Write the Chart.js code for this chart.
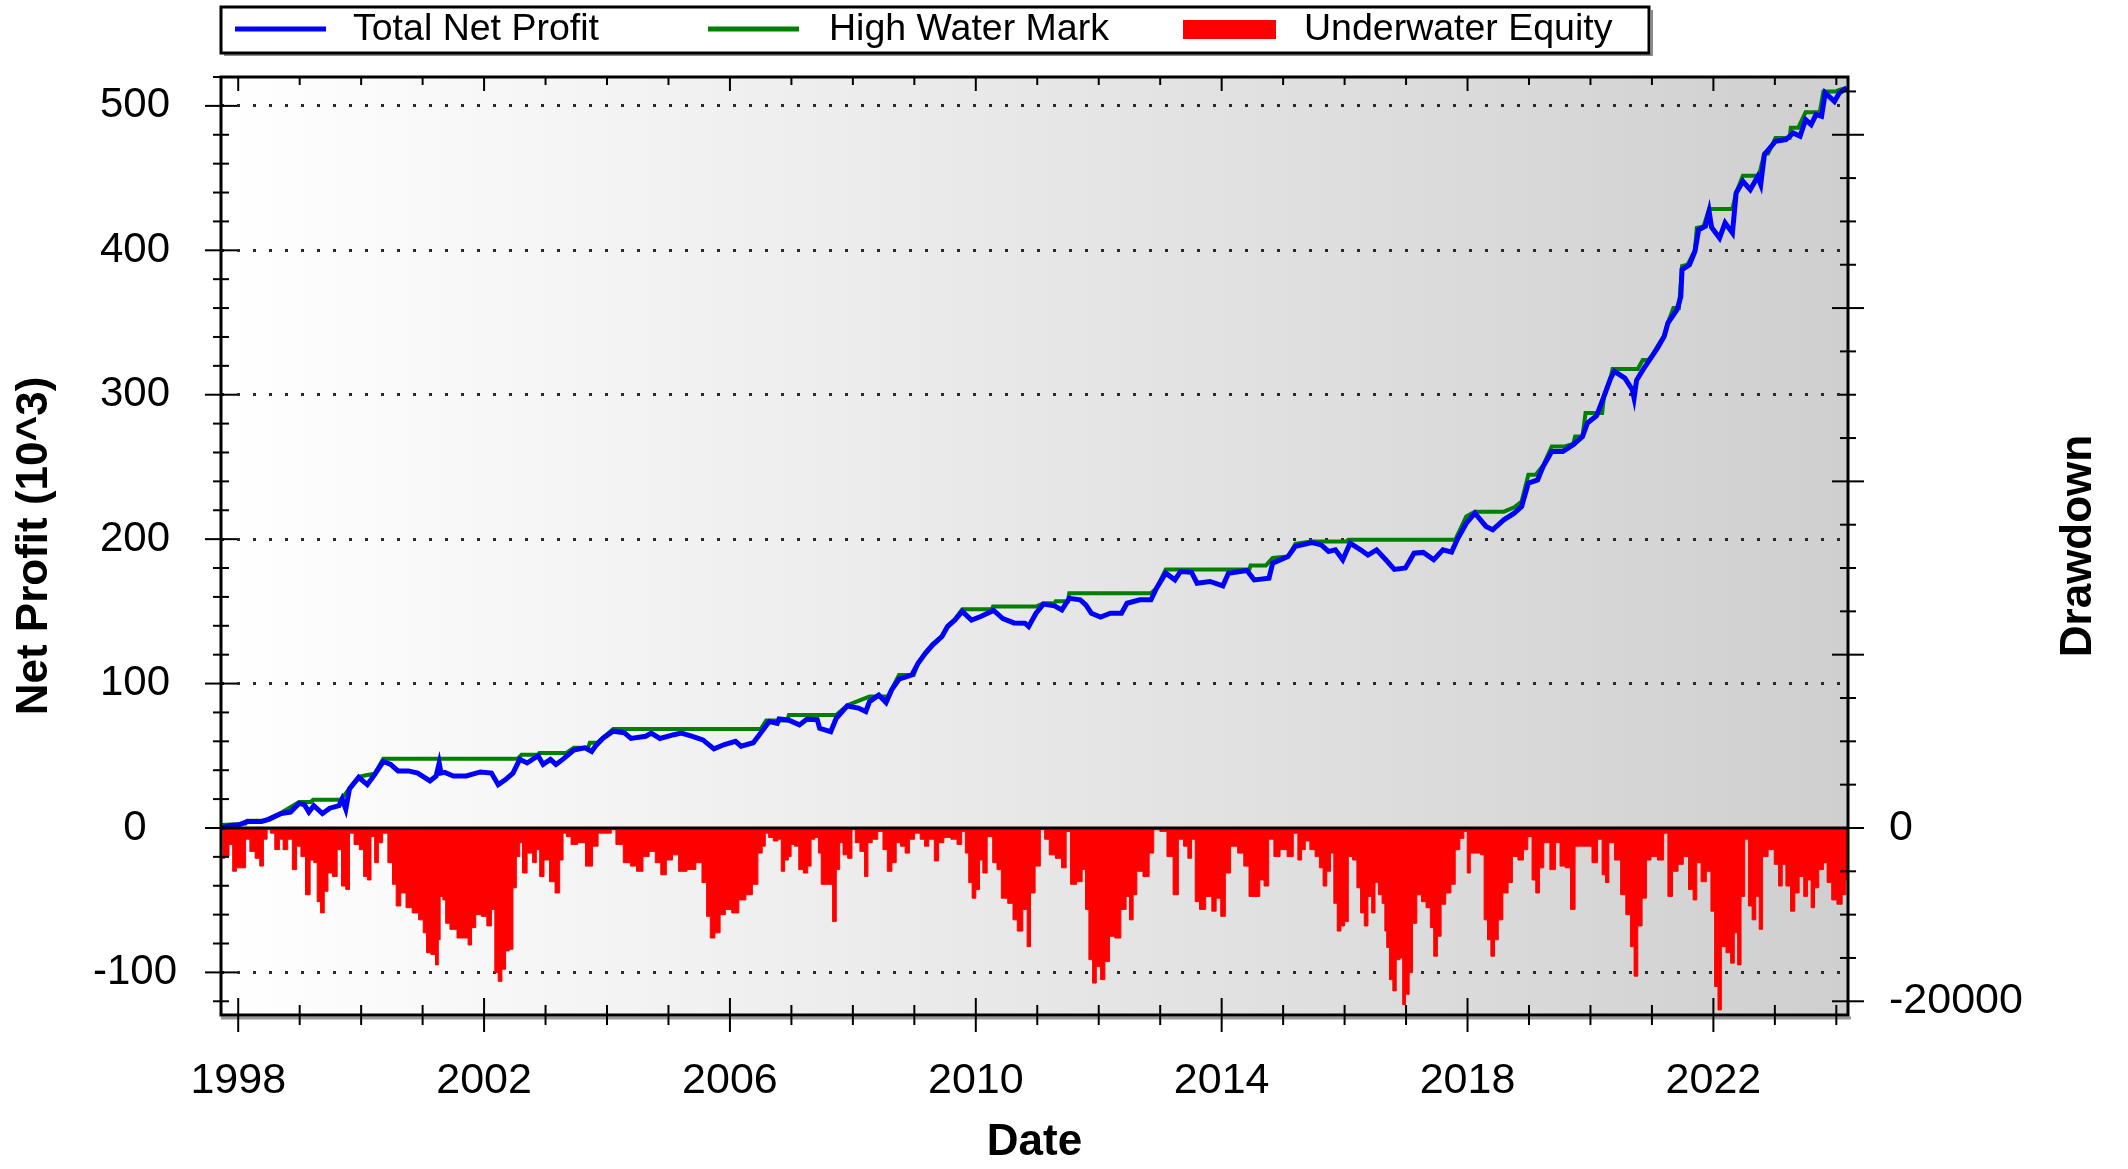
<!DOCTYPE html>
<html>
<head>
<meta charset="utf-8">
<title>Net Profit / Drawdown</title>
<script src="https://cdn.jsdelivr.net/npm/chart.js@4.4.1/dist/chart.umd.min.js"></script>
<style>
  html, body { margin: 0; padding: 0; background: #fff; }
  #wrap { width: 2128px; height: 1169px; }
</style>
</head>
<body>
<div id="wrap"><canvas id="chart"></canvas></div>
<script>
// Equity curve, thousands (year, net profit)
const equityPoints = [
  [1997.72, 0], [1997.85, 1.5], [1998.00, 2], [1998.15, 4.5], [1998.38, 4.5], [1998.50, 6],
  [1998.70, 10], [1998.85, 11], [1998.99, 17], [1999.08, 16], [1999.15, 11], [1999.23, 15.5],
  [1999.37, 10], [1999.49, 13.7], [1999.64, 15.5], [1999.69, 20], [1999.75, 13], [1999.81, 27],
  [1999.96, 35], [2000.10, 30], [2000.22, 37], [2000.36, 46], [2000.48, 44], [2000.60, 39.5],
  [2000.77, 39.5], [2000.92, 38], [2001.12, 32.6], [2001.22, 36], [2001.27, 45], [2001.30, 38],
  [2001.36, 38.5], [2001.50, 36], [2001.71, 36], [2001.94, 38.8], [2002.12, 38], [2002.23, 30],
  [2002.35, 33.5], [2002.47, 38], [2002.58, 47.5], [2002.70, 45], [2002.88, 50], [2002.96, 44],
  [2003.08, 47.5], [2003.17, 44], [2003.28, 47.5], [2003.46, 54], [2003.64, 55.5], [2003.75, 53],
  [2003.81, 56.6], [2003.93, 62], [2004.10, 67], [2004.28, 66], [2004.39, 62], [2004.63, 63.5],
  [2004.72, 65.7], [2004.86, 62], [2005.09, 64.6], [2005.21, 65.7], [2005.39, 63.5], [2005.56, 61],
  [2005.74, 54.8], [2005.91, 57.8], [2006.09, 60], [2006.18, 56.6], [2006.38, 59], [2006.50, 65.7],
  [2006.64, 73.7], [2006.77, 72.5], [2006.80, 75.5], [2006.95, 74.8], [2007.13, 71.4], [2007.25, 75.3],
  [2007.42, 75], [2007.46, 69], [2007.64, 66.7], [2007.73, 76], [2007.91, 84.5], [2008.09, 83],
  [2008.21, 80.6], [2008.27, 87.5], [2008.42, 92], [2008.54, 86.8], [2008.63, 95.6], [2008.75, 103],
  [2008.96, 106], [2009.06, 114], [2009.18, 121], [2009.30, 126.8], [2009.45, 132.6], [2009.54, 139.5],
  [2009.66, 144], [2009.78, 150], [2009.93, 144], [2010.08, 146.4], [2010.29, 150.6], [2010.44, 145],
  [2010.62, 142], [2010.80, 141.8], [2010.86, 139.5], [2010.98, 148.7], [2011.10, 155], [2011.28, 153.8],
  [2011.40, 151], [2011.52, 159], [2011.70, 158], [2011.79, 154.5], [2011.88, 148.7], [2012.03, 146],
  [2012.19, 148.7], [2012.37, 148.7], [2012.46, 155.6], [2012.67, 158], [2012.85, 158], [2012.94, 166],
  [2013.09, 176.4], [2013.24, 171.8], [2013.33, 177.6], [2013.51, 177], [2013.60, 169.5], [2013.81, 170.7],
  [2014.02, 167.7], [2014.11, 176.4], [2014.41, 178.3], [2014.53, 171.8], [2014.77, 173], [2014.83, 183.4],
  [2015.08, 188], [2015.20, 195], [2015.47, 197.7], [2015.62, 196], [2015.74, 191.5], [2015.85, 192.6],
  [2015.97, 185.7], [2016.09, 197.2], [2016.26, 192.6], [2016.38, 189], [2016.52, 192.6], [2016.67, 185.7],
  [2016.81, 179], [2016.99, 180], [2017.13, 190.3], [2017.28, 190.8], [2017.45, 185.7], [2017.60, 192.6],
  [2017.74, 191], [2017.83, 199.5], [2017.98, 211], [2018.12, 218], [2018.30, 208.8], [2018.41, 206.5],
  [2018.59, 213.4], [2018.76, 218], [2018.88, 222.6], [2018.99, 238.8], [2019.14, 241], [2019.23, 250.3],
  [2019.37, 260.7], [2019.55, 260.7], [2019.72, 265.4], [2019.87, 271], [2019.95, 280.4], [2020.10, 285.5],
  [2020.22, 298.8], [2020.33, 311.5], [2020.39, 316.2], [2020.56, 311.5], [2020.68, 303.5], [2020.71, 297.7],
  [2020.75, 310], [2020.85, 317], [2021.00, 326.6], [2021.09, 332.3], [2021.20, 340.4], [2021.26, 349.6],
  [2021.41, 359], [2021.47, 368], [2021.49, 386.6], [2021.61, 390], [2021.70, 399.3], [2021.76, 414.3],
  [2021.87, 416.6], [2021.93, 427], [2021.97, 416], [2022.10, 408.5], [2022.19, 419], [2022.31, 412],
  [2022.37, 439.7], [2022.48, 447.8], [2022.60, 442], [2022.72, 451], [2022.77, 445.5], [2022.83, 466.3],
  [2023.01, 475.5], [2023.18, 476.7], [2023.30, 481.3], [2023.41, 479], [2023.50, 490.5], [2023.59, 487],
  [2023.67, 494], [2023.76, 492.8], [2023.82, 509], [2023.97, 503], [2024.05, 509], [2024.17, 512.5]
];

// High water mark, thousands
const hwmPoints = [
  [1997.72, 2], [1998.12, 3], [1998.15, 5], [1998.42, 5], [1998.70, 10.5], [1998.99, 18], [1999.18, 18],
  [1999.22, 19.6], [1999.66, 19.6], [1999.70, 21], [1999.81, 27.5], [1999.96, 35.5], [2000.08, 36.5],
  [2000.22, 37.5], [2000.36, 48], [2002.55, 48], [2002.61, 50.7], [2002.88, 50.7], [2002.90, 52],
  [2003.34, 52], [2003.46, 55.5], [2003.69, 55.5], [2003.72, 59], [2003.84, 59], [2004.10, 68.5],
  [2006.50, 68.5], [2006.59, 74.4], [2006.93, 74.4], [2006.96, 78.3], [2007.73, 78.3], [2007.91, 85],
  [2008.27, 91], [2008.57, 91], [2008.75, 106], [2008.99, 106], [2009.06, 114], [2009.18, 121.5],
  [2009.30, 127.5], [2009.45, 133], [2009.54, 140], [2009.66, 144.5], [2009.78, 151.5], [2010.26, 151.5],
  [2010.28, 153.3], [2010.98, 153.3], [2011.10, 155.6], [2011.28, 155.6], [2011.30, 157], [2011.50, 157],
  [2011.52, 162.6], [2012.85, 162.6], [2012.94, 166], [2013.09, 179], [2014.45, 179], [2014.47, 181.8],
  [2014.72, 181.8], [2014.83, 187], [2015.08, 188], [2015.20, 196.8], [2015.45, 198.4], [2016.03, 198.4],
  [2016.06, 199.5], [2017.80, 199.5], [2017.98, 215.7], [2018.12, 219], [2018.59, 219], [2018.76, 222],
  [2018.88, 226], [2018.99, 244.6], [2019.11, 244.6], [2019.23, 251], [2019.37, 264.2], [2019.58, 264.2],
  [2019.72, 266], [2019.75, 271], [2019.87, 271], [2019.92, 287.3], [2020.19, 287.3], [2020.22, 299],
  [2020.33, 312], [2020.36, 317.8], [2020.77, 317.8], [2020.85, 324], [2020.94, 324], [2021.00, 327],
  [2021.09, 333.5], [2021.20, 341], [2021.26, 350], [2021.35, 360], [2021.44, 360], [2021.49, 389],
  [2021.58, 390], [2021.70, 400], [2021.73, 415.5], [2021.84, 416.6], [2021.93, 428.6], [2022.31, 428.6],
  [2022.37, 440], [2022.48, 451.7], [2022.74, 451.7], [2022.83, 467], [2022.89, 467], [2023.01, 477.8],
  [2023.24, 477.8], [2023.26, 484.8], [2023.38, 484.8], [2023.50, 495.6], [2023.73, 495.6], [2023.79, 510],
  [2023.99, 510], [2024.05, 511], [2024.17, 512.5]
];

// Underwater equity (drawdown), dollars, right axis
const drawdownPoints = [
  [1997.74, -3500], [1997.82, -3300], [1997.88, -1900], [1997.94, -5000], [1998.00, -4600], [1998.09, -4600],
  [1998.15, -1300], [1998.23, -2700], [1998.32, -3500], [1998.38, -4400], [1998.44, -1300], [1998.50, -200],
  [1998.55, -600], [1998.64, -2500], [1998.70, -1300], [1998.76, -2500], [1998.85, -1300], [1998.91, -4800],
  [1998.99, -2100], [1999.05, -3300], [1999.14, -7700], [1999.20, -3700], [1999.26, -4000], [1999.31, -8500],
  [1999.37, -9800], [1999.43, -7300], [1999.49, -5200], [1999.58, -5600], [1999.64, -2500], [1999.72, -6700],
  [1999.78, -7100], [1999.84, -600], [1999.93, -1900], [2000.01, -2500], [2000.07, -5600], [2000.13, -6000],
  [2000.19, -1000], [2000.25, -4000], [2000.31, -1700], [2000.39, -600], [2000.48, -4000], [2000.54, -6500],
  [2000.60, -9000], [2000.69, -7500], [2000.77, -9200], [2000.89, -9800], [2000.98, -10600], [2001.04, -12100],
  [2001.09, -14400], [2001.18, -14600], [2001.24, -15800], [2001.27, -12900], [2001.30, -7900], [2001.36, -8300],
  [2001.39, -11000], [2001.50, -11700], [2001.62, -12700], [2001.71, -12700], [2001.77, -13500], [2001.82, -11500],
  [2001.91, -10000], [2002.00, -10200], [2002.09, -11300], [2002.15, -9400], [2002.20, -16700], [2002.26, -17700],
  [2002.32, -16300], [2002.38, -14200], [2002.44, -14000], [2002.50, -6900], [2002.55, -3300], [2002.61, -1700],
  [2002.64, -5200], [2002.76, -2900], [2002.82, -4000], [2002.88, -2500], [2002.93, -5600], [2003.02, -3700],
  [2003.11, -6200], [2003.20, -7500], [2003.26, -3700], [2003.31, -600], [2003.37, -1000], [2003.46, -1900],
  [2003.58, -1700], [2003.72, -4400], [2003.81, -2100], [2003.90, -600], [2004.04, -600], [2004.10, -200],
  [2004.19, -1900], [2004.34, -4000], [2004.42, -4400], [2004.54, -5000], [2004.63, -3300], [2004.74, -2700],
  [2004.83, -4000], [2004.92, -5400], [2005.01, -3700], [2005.12, -3100], [2005.21, -5000], [2005.39, -4800],
  [2005.50, -4000], [2005.59, -6300], [2005.65, -10200], [2005.71, -12700], [2005.80, -12100], [2005.88, -10000],
  [2005.97, -9400], [2006.09, -9800], [2006.20, -8300], [2006.32, -7700], [2006.41, -6500], [2006.50, -2900],
  [2006.55, -2100], [2006.60, -600], [2006.66, -1100], [2006.75, -1500], [2006.81, -1300], [2006.86, -5000],
  [2006.92, -3700], [2006.98, -3300], [2007.01, -1900], [2007.09, -2100], [2007.15, -4800], [2007.24, -5200],
  [2007.29, -4400], [2007.35, -1300], [2007.41, -1100], [2007.47, -2900], [2007.50, -6500], [2007.64, -6500],
  [2007.70, -10800], [2007.76, -4800], [2007.81, -1700], [2007.87, -3100], [2007.96, -3500], [2008.01, -200],
  [2008.07, -1700], [2008.16, -2700], [2008.22, -5600], [2008.27, -1700], [2008.36, -1300], [2008.45, -400],
  [2008.53, -2500], [2008.59, -5000], [2008.68, -4000], [2008.73, -1700], [2008.82, -2100], [2008.88, -2900],
  [2008.96, -1300], [2009.05, -600], [2009.14, -1300], [2009.19, -2100], [2009.28, -1300], [2009.37, -3800],
  [2009.42, -1700], [2009.54, -1100], [2009.65, -1300], [2009.74, -1900], [2009.80, -400], [2009.86, -2900],
  [2009.91, -6300], [2009.97, -8100], [2010.03, -7100], [2010.09, -3700], [2010.14, -5200], [2010.23, -1000],
  [2010.32, -4000], [2010.37, -4800], [2010.46, -8100], [2010.58, -8700], [2010.63, -10600], [2010.72, -11900],
  [2010.81, -9400], [2010.86, -13700], [2010.92, -7500], [2011.01, -4400], [2011.09, -200], [2011.15, -1300],
  [2011.24, -3100], [2011.35, -3500], [2011.44, -4600], [2011.50, -400], [2011.58, -6500], [2011.70, -6200],
  [2011.76, -4800], [2011.81, -9400], [2011.87, -15200], [2011.93, -17900], [2011.99, -16000], [2012.07, -17500],
  [2012.13, -15400], [2012.22, -12500], [2012.30, -12700], [2012.42, -9400], [2012.47, -7900], [2012.53, -10600],
  [2012.59, -7700], [2012.65, -5000], [2012.79, -5600], [2012.85, -2900], [2012.94, -200], [2013.05, -400],
  [2013.17, -3300], [2013.25, -7700], [2013.34, -1300], [2013.42, -2100], [2013.48, -3500], [2013.54, -1300],
  [2013.60, -8500], [2013.68, -9400], [2013.80, -7900], [2013.88, -9600], [2013.94, -8100], [2014.03, -10200],
  [2014.09, -5200], [2014.20, -2100], [2014.32, -2900], [2014.40, -4400], [2014.49, -7900], [2014.58, -7900],
  [2014.66, -6000], [2014.72, -6700], [2014.81, -1300], [2014.89, -3300], [2015.01, -2500], [2015.12, -3300],
  [2015.21, -600], [2015.27, -3700], [2015.33, -2500], [2015.39, -1500], [2015.48, -2500], [2015.56, -3300],
  [2015.62, -4600], [2015.68, -6700], [2015.74, -5000], [2015.80, -2900], [2015.85, -8700], [2015.91, -11900],
  [2015.97, -11300], [2016.03, -10800], [2016.09, -3300], [2016.17, -3700], [2016.23, -6900], [2016.29, -9800],
  [2016.35, -11300], [2016.41, -7900], [2016.47, -9800], [2016.52, -6300], [2016.58, -7700], [2016.64, -8700],
  [2016.67, -11900], [2016.70, -13800], [2016.76, -17500], [2016.81, -18800], [2016.87, -15200], [2016.93, -15000],
  [2016.96, -20400], [2017.02, -19200], [2017.08, -16700], [2017.13, -11000], [2017.22, -7700], [2017.28, -8500],
  [2017.37, -9200], [2017.42, -11500], [2017.48, -14800], [2017.54, -12500], [2017.60, -8800], [2017.69, -7500],
  [2017.77, -6500], [2017.83, -2500], [2017.92, -1200], [2017.96, -400], [2018.03, -5200], [2018.06, -2900],
  [2018.18, -2900], [2018.24, -3100], [2018.30, -10600], [2018.35, -12900], [2018.41, -14800], [2018.47, -12900],
  [2018.53, -10600], [2018.62, -7500], [2018.70, -6300], [2018.76, -3300], [2018.88, -3700], [2018.94, -2500],
  [2019.02, -1000], [2019.08, -6000], [2019.14, -7500], [2019.20, -4600], [2019.28, -1700], [2019.40, -4800],
  [2019.46, -1700], [2019.55, -4400], [2019.63, -4600], [2019.72, -9400], [2019.78, -2100], [2019.87, -2100],
  [2019.98, -2100], [2020.07, -4000], [2020.16, -1300], [2020.22, -5400], [2020.27, -6300], [2020.33, -1700],
  [2020.45, -3700], [2020.53, -7700], [2020.62, -10000], [2020.68, -13700], [2020.74, -17100], [2020.80, -11300],
  [2020.88, -8100], [2020.94, -3700], [2021.03, -3300], [2021.15, -3700], [2021.23, -600], [2021.29, -7900],
  [2021.38, -5000], [2021.47, -4200], [2021.55, -3300], [2021.64, -7100], [2021.70, -8300], [2021.76, -4000],
  [2021.84, -6200], [2021.93, -5000], [2021.99, -9600], [2022.05, -18300], [2022.10, -21000], [2022.16, -13700],
  [2022.25, -14400], [2022.31, -15600], [2022.37, -12100], [2022.42, -15800], [2022.48, -7900], [2022.54, -1300],
  [2022.60, -9000], [2022.66, -10600], [2022.72, -7900], [2022.77, -11700], [2022.83, -3300], [2022.95, -2500],
  [2023.03, -4200], [2023.09, -6700], [2023.15, -4200], [2023.21, -6700], [2023.30, -9600], [2023.35, -7500],
  [2023.44, -5600], [2023.50, -7900], [2023.56, -6000], [2023.62, -9200], [2023.67, -6900], [2023.76, -4800],
  [2023.82, -4000], [2023.88, -6300], [2023.97, -8300], [2024.05, -8800], [2024.14, -7700], [2024.17, -6000],
  [2024.19, -3300]
];

// Axis labels
const xTickYears = [1998, 2002, 2006, 2010, 2014, 2018, 2022];
const ddTickValues = [-20000, 0];

const toXY = pts => pts.map(p => ({ x: p[0], y: p[1] }));
const FONT = "'Liberation Sans', Arial, Helvetica, sans-serif";
Chart.defaults.font.family = FONT;
Chart.defaults.color = '#000';

// Plot background: horizontal white -> gray gradient
const backgroundPlugin = {
  id: 'plotBackground',
  beforeDraw(chart) {
    const { ctx, chartArea: a } = chart;
    const g = ctx.createLinearGradient(a.left, 0, a.right, 0);
    g.addColorStop(0, '#ffffff');
    g.addColorStop(1, '#cfcfcf');
    ctx.save();
    ctx.fillStyle = g;
    ctx.fillRect(a.left, a.top, a.width, a.height);
    ctx.restore();
  }
};

// Frame, zero line and crossing tick marks
const framePlugin = {
  id: 'frameTicks',
  afterDatasetsDraw(chart) {
    const { ctx, chartArea: a, scales } = chart;
    const { x, y, y2 } = scales;
    const line = (x1, y1, x2, y2_) => { ctx.beginPath(); ctx.moveTo(x1, y1); ctx.lineTo(x2, y2_); ctx.stroke(); };
    ctx.save();
    ctx.strokeStyle = '#000';
    ctx.lineWidth = 3;
    const y0 = y.getPixelForValue(0);
    line(a.left, y0, a.right, y0);
    // shadow under the bottom axis
    ctx.strokeStyle = '#9a9a9a';
    line(a.left, a.bottom + 3, a.right + 3, a.bottom + 3);
    ctx.strokeStyle = '#000';
    ctx.strokeRect(a.left, a.top, a.width, a.height);

    ctx.lineWidth = 2;
    for (let yr = 1998; yr <= 2024; yr++) {
      const px = x.getPixelForValue(yr);
      const major = xTickYears.includes(yr);
      const h = major ? 17 : 10;
      line(px, a.bottom - h, px, a.bottom + h);
      line(px, a.top, px, a.top + (major ? 14 : 8));
    }
    for (let v = -120; v <= 520; v += 20) {
      const py = y.getPixelForValue(v);
      const h = v % 100 === 0 ? 16 : 8;
      line(a.left - h, py, a.left + h, py);
    }
    for (let v = -20000; v <= 85000; v += 5000) {
      const py = y2.getPixelForValue(v);
      const h = v % 20000 === 0 ? 16 : 8;
      line(a.right - h, py, a.right + h, py);
    }
    ctx.restore();
  }
};

// Boxed legend on top and the right-hand axis title
const legendPlugin = {
  id: 'boxLegend',
  afterDraw(chart) {
    const { ctx, chartArea: a } = chart;
    const ds = chart.data.datasets;
    ctx.save();
    // frame
    ctx.strokeStyle = '#8c8c8c';
    ctx.lineWidth = 2;
    ctx.beginPath();
    ctx.moveTo(a.left + 3, 55); ctx.lineTo(1652, 55); ctx.lineTo(1652, 10);
    ctx.stroke();
    ctx.strokeStyle = '#000';
    ctx.lineWidth = 3;
    ctx.strokeRect(a.left, 7, 1428, 46);

    const items = [
      { x: 235, text: 353, kind: 'line', ds: ds[0] },
      { x: 708, text: 829, kind: 'line', ds: ds[1] },
      { x: 1183, text: 1304, kind: 'box', ds: ds[2] }
    ];
    ctx.font = '37.5px ' + FONT;
    ctx.textBaseline = 'middle';
    ctx.textAlign = 'left';
    items.forEach(it => {
      if (it.kind === 'line') {
        ctx.strokeStyle = it.ds.borderColor;
        ctx.lineWidth = 5;
        ctx.beginPath(); ctx.moveTo(it.x, 29); ctx.lineTo(it.x + 91, 29); ctx.stroke();
      } else {
        ctx.fillStyle = it.ds.backgroundColor;
        ctx.fillRect(it.x, 20, 93, 19);
      }
      ctx.fillStyle = '#000';
      ctx.fillText(it.ds.label, it.text, 30);
    });

    // right axis title, reading bottom to top
    ctx.translate(chart.width - 49, (a.top + a.bottom) / 2);
    ctx.rotate(-Math.PI / 2);
    ctx.font = 'bold 44px ' + FONT;
    ctx.textAlign = 'center';
    ctx.fillStyle = '#000';
    ctx.fillText('Drawdown', 0, 0);
    ctx.restore();
  }
};

new Chart(document.getElementById('chart'), {
  type: 'line',
  data: {
    datasets: [
      {
        label: 'Total Net Profit',
        data: toXY(equityPoints),
        borderColor: '#0000ff',
        borderWidth: 5,
        pointRadius: 0,
        tension: 0,
        fill: false,
        xAxisID: 'x',
        yAxisID: 'y'
      },
      {
        label: 'High Water Mark',
        data: toXY(hwmPoints),
        borderColor: '#008000',
        borderWidth: 4,
        pointRadius: 0,
        tension: 0,
        fill: false,
        xAxisID: 'x',
        yAxisID: 'y'
      },
      {
        label: 'Underwater Equity',
        data: toXY(drawdownPoints),
        borderColor: '#ff0000',
        backgroundColor: '#ff0000',
        borderWidth: 1,
        pointRadius: 0,
        stepped: 'middle',
        fill: 'origin',
        xAxisID: 'x',
        yAxisID: 'y2'
      }
    ]
  },
  options: {
    responsive: true,
    maintainAspectRatio: false,
    devicePixelRatio: 1,
    animation: false,
    layout: { padding: { top: 77, left: 0, right: 0, bottom: 0 } },
    plugins: {
      legend: { display: false },
      tooltip: { enabled: false }
    },
    scales: {
      x: {
        type: 'linear',
        position: 'bottom',
        min: 1997.72,
        max: 2024.19,
        afterBuildTicks: s => { s.ticks = xTickYears.map(v => ({ value: v })); },
        afterFit: s => { s.height = 154; },
        grid: { display: false },
        border: { display: false },
        ticks: {
          autoSkip: false,
          maxRotation: 0,
          padding: 32,
          font: { size: 43 },
          color: '#000',
          callback: v => String(v)
        },
        title: {
          display: true,
          text: 'Date',
          color: '#000',
          font: { size: 44, weight: 'bold' },
          padding: { top: 0, bottom: 0 }
        }
      },
      y: {
        type: 'linear',
        position: 'left',
        min: -129.5,
        max: 520,
        afterFit: s => { s.width = 221; },
        grid: {
          drawTicks: false,
          lineWidth: 3,
          color: c => (c.tick && c.tick.value === 0) ? 'rgba(0,0,0,0)' : '#2a2a2a'
        },
        border: { display: false, dash: [3, 13] },
        ticks: {
          stepSize: 100,
          includeBounds: false,
          crossAlign: 'center',
          padding: 44,
          font: { size: 42 },
          color: '#000',
          callback: v => String(v)
        },
        title: {
          display: true,
          text: 'Net Profit (10^3)',
          color: '#000',
          font: { size: 44, weight: 'bold' },
          padding: { top: 8, bottom: 0 }
        }
      },
      y2: {
        type: 'linear',
        position: 'right',
        min: -21583,
        max: 86667,
        afterBuildTicks: s => { s.ticks = ddTickValues.map(v => ({ value: v })); },
        afterFit: s => { s.width = 280; },
        grid: { display: false },
        border: { display: false },
        ticks: {
          padding: 33,
          font: { size: 43 },
          color: '#000',
          callback: v => String(v)
        },
        title: { display: false }
      }
    }
  },
  plugins: [backgroundPlugin, framePlugin, legendPlugin]
});
</script>
</body>
</html>
